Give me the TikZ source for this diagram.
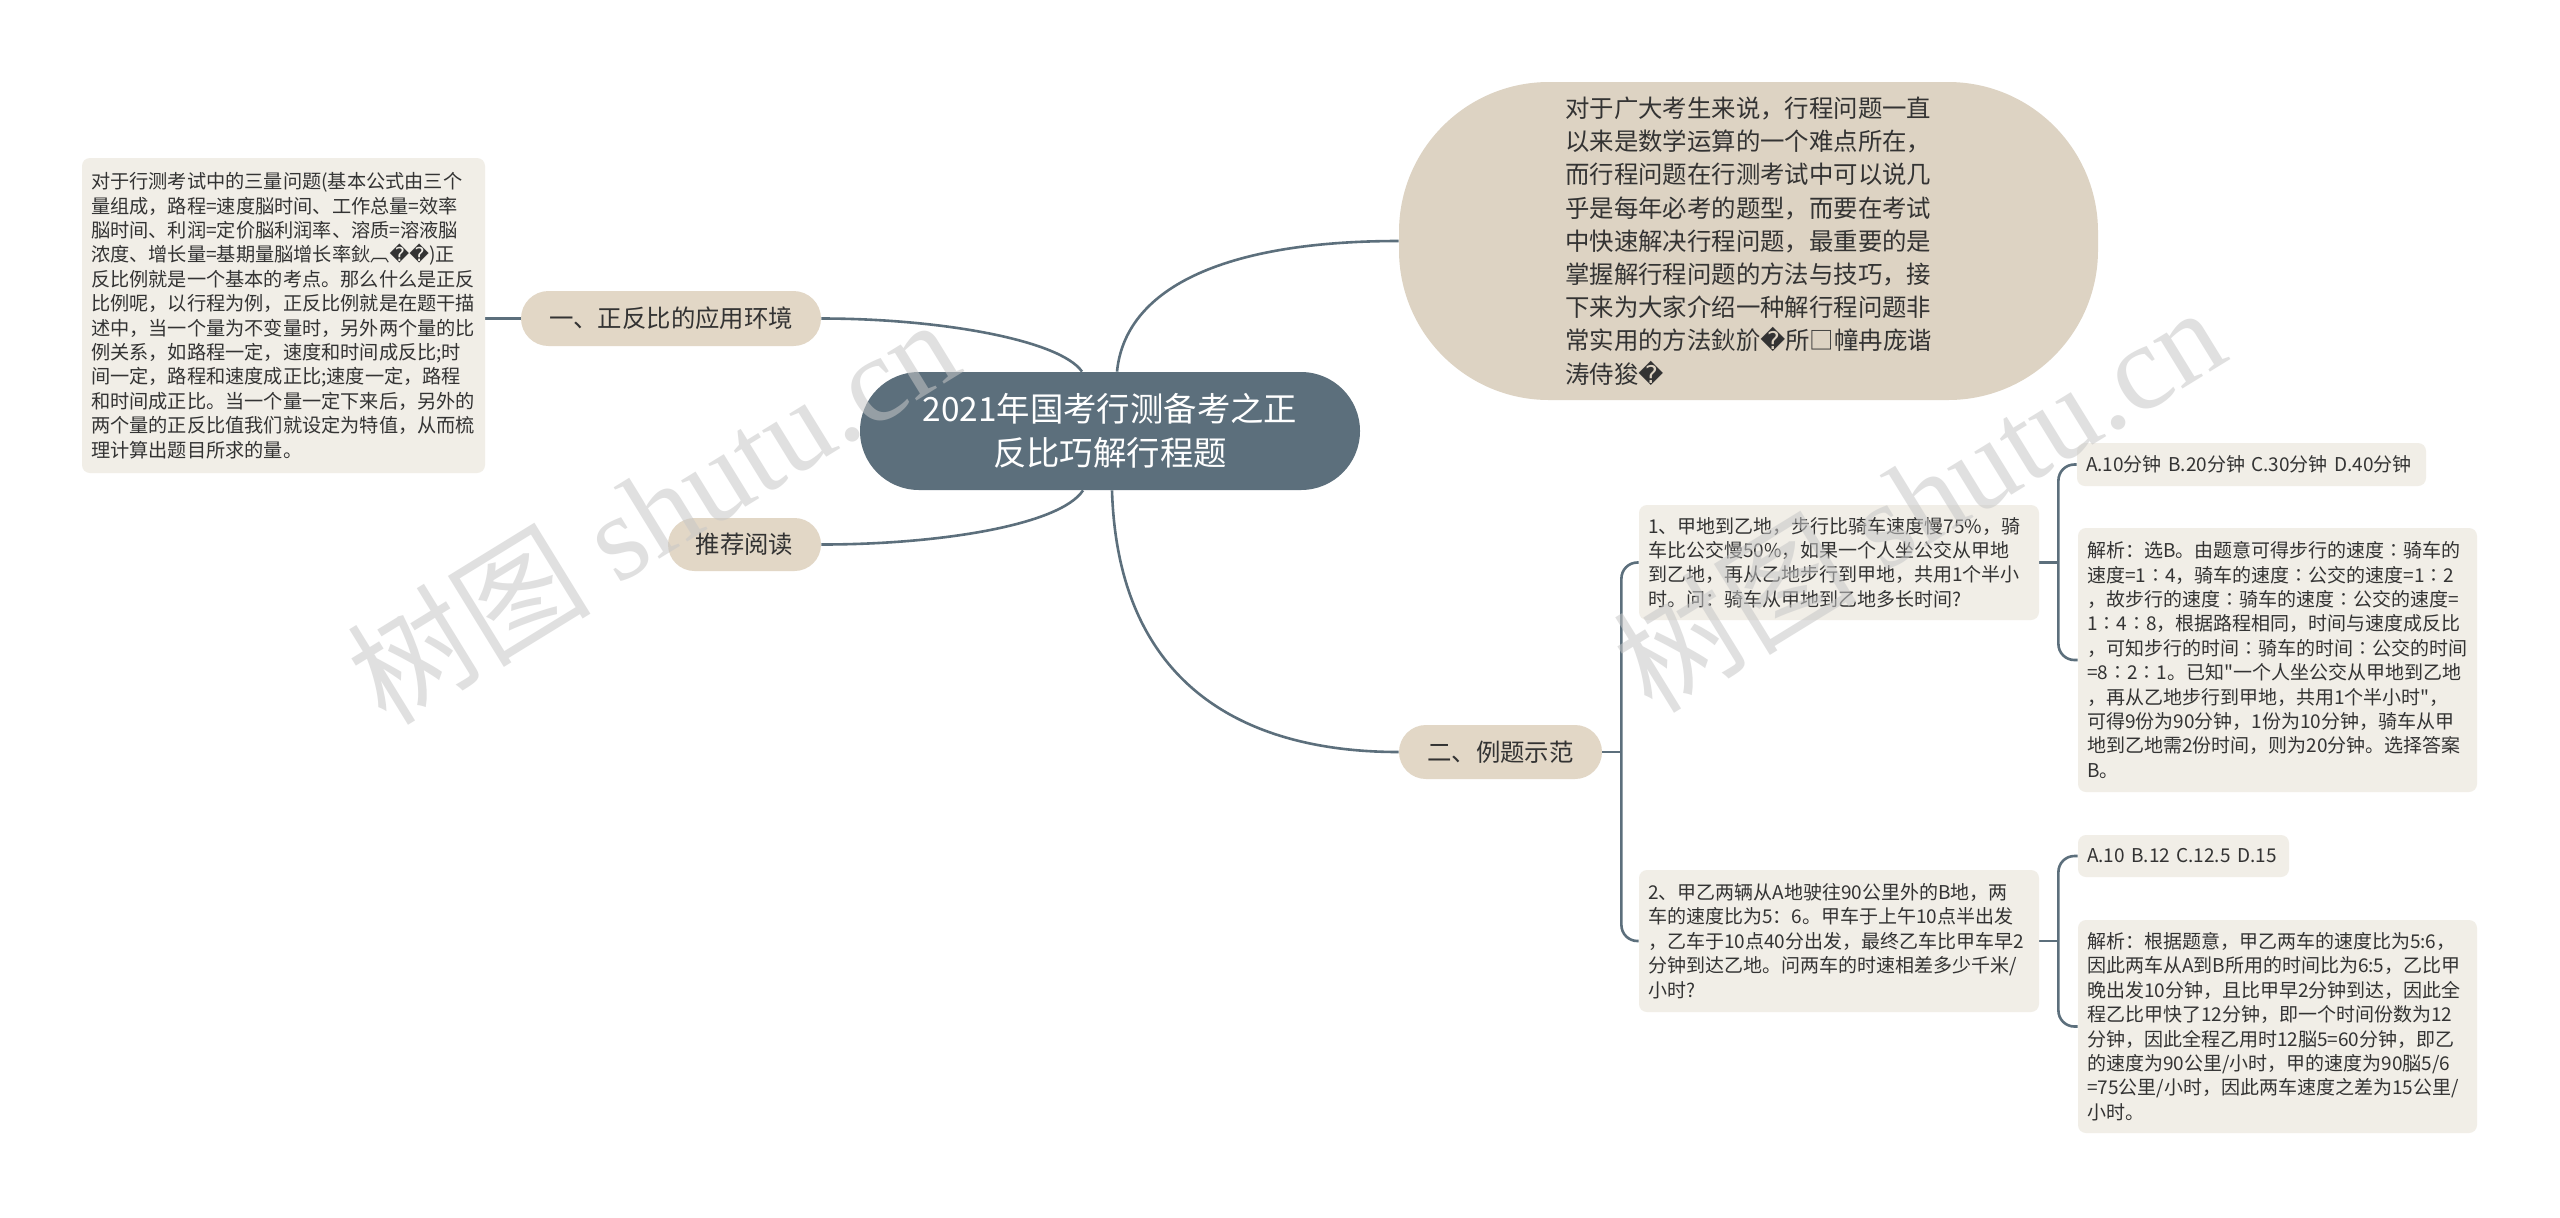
\documentclass[tikz,border=0pt]{standalone}
\usepackage{fontspec}
\setmainfont{Noto Sans CJK SC}[Ligatures=TeXOff]
\newfontfamily\dvfont{DejaVu Sans}
\newfontfamily\wmserif{Liberation Serif}
\usetikzlibrary{calc,backgrounds}
\definecolor{centerc}{HTML}{5C6F7C}
\definecolor{branchc}{HTML}{E2D7C6}
\definecolor{bubblec}{HTML}{DDD3C3}
\definecolor{leafc}{HTML}{F1EEE7}
\definecolor{linec}{HTML}{5C6F7C}
\definecolor{textc}{HTML}{333333}
\newcommand\rpl{{\dvfont\symbol{"FFFD}}}
\begin{document}
\begin{tikzpicture}[x=0.5pt,y=-0.5pt,
  conn/.style={draw=linec,line width=1.3pt},
  centerbox/.style={fill=centerc,text=white,rounded corners=29.5pt,inner sep=0pt,
    minimum width=250pt,minimum height=59pt,align=center,
    font=\fontsize{16.7pt}{22pt}\selectfont},
  branchbox/.style={fill=branchc,text=textc,inner sep=0pt,align=center,
    font=\fontsize{12.2pt}{15pt}\selectfont},
  bubblebox/.style={fill=bubblec,text=textc,rounded corners=75pt,inner sep=0pt,
    minimum width=349.5pt,minimum height=159pt,align=left,
    font=\fontsize{12.2pt}{16.6pt}\selectfont},
  leafbox/.style={fill=leafc,text=textc,rounded corners=4pt,inner xsep=4.5pt,inner ysep=0pt,
    align=left,font=\fontsize{9.5pt}{12.2pt}\selectfont},
  wm/.style={text=black!22,opacity=0.55,inner sep=0pt,font=\fontsize{61pt}{61pt}\selectfont}
]
\begin{scope}[on background layer]
\fill[white] (0,0) rectangle (2560,1217);
\end{scope}
\useasboundingbox (0,0) rectangle (2560,1217);

% central topic
\node[centerbox] (center) at (1110,431) {2021年国考行测备考之正\\反比巧解行程题};

% top-right bubble
\node[bubblebox] (bubble) at (1748.5,241) {对于广大考生来说，行程问题一直\\以来是数学运算的一个难点所在，\\而行程问题在行测考试中可以说几\\乎是每年必考的题型，而要在考试\\中快速解决行程问题，最重要的是\\掌握解行程问题的方法与技巧，接\\下来为大家介绍一种解行程问题非\\常实用的方法鈥斺\rpl 所□幢冉庞谐\\涛侍狻\rpl};

% left branches
\node[branchbox,minimum width=150pt,minimum height=27.5pt,rounded corners=13.75pt] (b1) at (671,318.5) {一、正反比的应用环境};
\node[branchbox,minimum width=76.5pt,minimum height=26.5pt,rounded corners=13.25pt] (b2) at (744.5,544.5) {推荐阅读};
\node[leafbox,minimum width=201.5pt,minimum height=157.5pt,text width=192.5pt,font=\fontsize{9.6pt}{12.2pt}\selectfont] (lbox) at (283.5,315.5) {对于行测考试中的三量问题(基本公式由三个\\量组成，路程=速度脳时间、工作总量=效率\\脳时间、利润=定价脳利润率、溶质=溶液脳\\浓度、增长量=基期量脳增长率鈥︹\rpl\rpl)正\\反比例就是一个基本的考点。那么什么是正反\\比例呢，以行程为例，正反比例就是在题干描\\述中，当一个量为不变量时，另外两个量的比\\例关系，如路程一定，速度和时间成反比;时\\间一定，路程和速度成正比;速度一定，路程\\和时间成正比。当一个量一定下来后，另外的\\两个量的正反比值我们就设定为特值，从而梳\\理计算出题目所求的量。};

% right branch
\node[branchbox,minimum width=101.5pt,minimum height=27pt,rounded corners=13.5pt] (b3) at (1500.5,752) {二、例题示范};

\node[leafbox,minimum width=200pt,minimum height=57.5pt,text width=191pt] (q1) at (1839,562.5) {1、甲地到乙地，步行比骑车速度慢75\%，骑\\车比公交慢50\%，如果一个人坐公交从甲地\\到乙地，再从乙地步行到甲地，共用1个半小\\时。问：骑车从甲地到乙地多长时间?};
\node[leafbox,minimum width=200pt,minimum height=71pt,text width=191pt] (q2) at (1839,941) {2、甲乙两辆从A地驶往90公里外的B地，两\\车的速度比为5：6。甲车于上午10点半出发\\，乙车于10点40分出发，最终乙车比甲车早2\\分钟到达乙地。问两车的时速相差多少千米/\\小时?};

\node[leafbox,minimum width=174.5pt,minimum height=21.5pt,text width=165.5pt] (a1) at (2251.5,464.5) {A.10分钟 B.20分钟 C.30分钟 D.40分钟};
\node[leafbox,minimum width=199.5pt,minimum height=132pt,text width=190.5pt] (e1) at (2277.5,660) {解析：选B。由题意可得步行的速度∶骑车的\\速度=1∶4，骑车的速度∶公交的速度=1∶2\\，故步行的速度∶骑车的速度∶公交的速度=\\1∶4∶8，根据路程相同，时间与速度成反比\\，可知步行的时间∶骑车的时间∶公交的时间\\=8∶2∶1。已知"一个人坐公交从甲地到乙地\\，再从乙地步行到甲地，共用1个半小时"，\\可得9份为90分钟，1份为10分钟，骑车从甲\\地到乙地需2份时间，则为20分钟。选择答案\\B。};

\node[leafbox,minimum width=105.5pt,minimum height=21pt,text width=96.5pt] (a2) at (2183.5,856) {A.10 B.12 C.12.5 D.15};
\node[leafbox,minimum width=199.5pt,minimum height=106.5pt,text width=190.5pt] (e2) at (2277.5,1026.5) {解析：根据题意，甲乙两车的速度比为5:6，\\因此两车从A到B所用的时间比为6:5，乙比甲\\晚出发10分钟，且比甲早2分钟到达，因此全\\程乙比甲快了12分钟，即一个时间份数为12\\分钟，因此全程乙用时12脳5=60分钟，即乙\\的速度为90公里/小时，甲的速度为90脳5/6\\=75公里/小时，因此两车速度之差为15公里/\\小时。};

% junction points
\coordinate (cNW) at ($(center.north)+(-28,0)$);
\coordinate (cNE) at ($(center.north)+(7,0)$);
\coordinate (cSW) at ($(center.south)+(-27,0)$);
\coordinate (cSE) at ($(center.south)+(2,0)$);
\coordinate (j3) at ($(b3.east)+(19,0)$);
\coordinate (j1) at ($(q1.east)+(19,0)$);
\coordinate (j2) at ($(q2.east)+(19,0)$);

\begin{scope}[on background layer]
\draw[conn] (cNW) .. controls (1060,340) and (940,318.5) .. (b1.east);
\draw[conn] (cSW) .. controls (1060,525) and (940,544.5) .. (b2.east);
\draw[conn] (cNE) .. controls (1125,290) and (1220,241) .. (bubble.west);
\draw[conn] (cSE) .. controls (1118,690) and (1250,752) .. (b3.west);
\draw[conn] (b1.west) -- (b1.west -| lbox.east);
\draw[conn] (b3.east) -- (j3);
\draw[conn,rounded corners=8pt] (q1.west) -| (j3) |- (q2.west);
\draw[conn] (q1.east) -- (j1);
\draw[conn,rounded corners=8pt] (a1.west) -| (j1) |- (e1.west);
\draw[conn] (q2.east) -- (j2);
\draw[conn,rounded corners=8pt] (a2.west) -| (j2) |- (e2.west);
\end{scope}

% watermarks
\node[wm,rotate=31.6] (wm1) at (652,510) {树图 {\wmserif shutu.cn}};
\node[wm,rotate=31.6] (wm2) at (1918,498) {树图 {\wmserif shutu.cn}};
\end{tikzpicture}
\end{document}
